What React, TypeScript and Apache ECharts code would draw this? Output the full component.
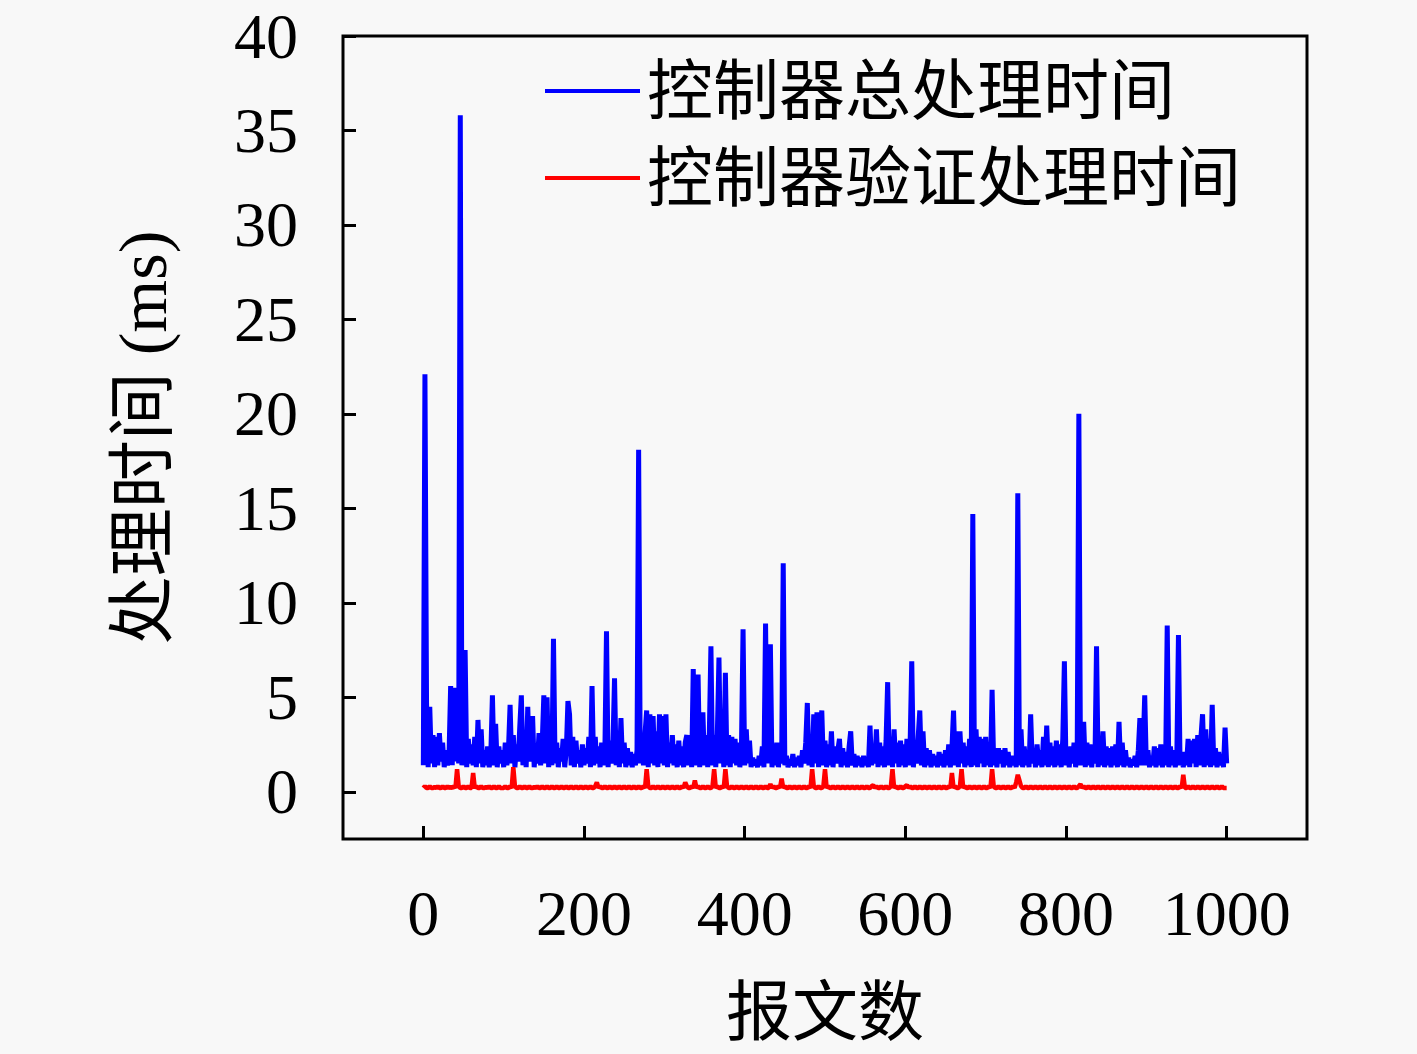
import React, { useEffect, useRef } from "react";
import * as echarts from "echarts";

// message index step between stored samples
const SAMPLE_STEP = 2;

const xTicks = [0, 200, 400, 600, 800, 1000];
const yTicks = [0, 5, 10, 15, 20, 25, 30, 35, 40];
const seriesNames = ["控制器总处理时间", "控制器验证处理时间"];
const xAxisTitle = "报文数";
const yAxisTitle = "处理时间 (ms)";

// 控制器总处理时间 (ms), one value per SAMPLE_STEP messages, rows of 50 messages
const totalTime = [
  1.4, 22.1, 4.7, 1.3, 4.5, 1.5, 3.0, 1.3, 2.9, 1.4, 3.1, 1.6, 2.6, 1.3, 2.2, 1.4, 2.0, 5.6, 1.4, 5.5, 1.6, 4.2, 1.5, 35.8, 1.4,
  2.1, 7.5, 1.3, 2.8, 1.5, 2.5, 1.4, 2.9, 1.3, 3.8, 1.5, 3.3, 1.3, 2.2, 1.4, 2.4, 1.3, 2.0, 5.1, 1.4, 3.6, 1.3, 2.4, 1.5, 2.2,
  1.3, 2.6, 1.4, 2.3, 4.6, 1.5, 3.0, 1.3, 2.5, 1.6, 3.4, 5.1, 1.4, 2.7, 1.3, 4.5, 1.6, 2.8, 4.0, 1.3, 2.4, 1.5, 3.1, 1.4, 2.6,
  5.1, 1.5, 5.0, 1.3, 2.8, 1.4, 8.1, 1.5, 2.6, 1.3, 2.3, 1.6, 2.8, 1.3, 2.2, 4.8, 4.1, 1.4, 2.9, 1.3, 2.7, 1.5, 2.2, 1.3, 2.5,
  1.4, 2.3, 1.5, 2.9, 1.3, 5.6, 1.4, 2.9, 1.5, 2.4, 1.3, 2.6, 1.4, 2.2, 8.5, 1.3, 2.7, 1.5, 2.4, 6.0, 1.4, 2.8, 1.3, 3.9, 1.5,
  2.6, 1.3, 2.3, 1.4, 2.1, 1.3, 2.0, 1.4, 2.2, 18.1, 1.5, 2.9, 1.4, 3.1, 4.3, 1.3, 4.1, 1.5, 4.0, 1.4, 3.2, 1.3, 4.1, 1.5, 4.0,
  1.4, 4.1, 1.3, 2.6, 1.5, 3.0, 1.4, 2.5, 1.3, 2.7, 1.4, 2.4, 1.3, 2.6, 3.0, 1.4, 3.0, 1.3, 6.5, 1.4, 3.0, 6.2, 1.3, 3.1, 4.2,
  1.4, 3.0, 1.3, 3.1, 7.7, 1.4, 3.0, 1.3, 3.1, 7.1, 1.5, 3.0, 1.3, 6.3, 1.4, 3.0, 1.3, 2.9, 1.5, 2.8, 1.4, 2.6, 1.3, 2.4, 8.6,
  1.4, 3.3, 1.5, 2.7, 1.3, 1.8, 1.4, 1.7, 1.3, 1.9, 1.4, 2.4, 1.3, 8.9, 1.5, 2.6, 7.8, 1.3, 2.5, 1.4, 2.6, 1.3, 2.3, 1.5, 12.1,
  1.4, 1.9, 1.3, 1.7, 1.4, 2.0, 1.3, 1.8, 1.4, 1.9, 1.3, 2.2, 1.5, 2.6, 4.7, 1.4, 3.0, 1.3, 4.1, 1.5, 4.2, 1.3, 3.0, 4.3, 1.4,
  2.7, 1.3, 2.5, 1.4, 3.2, 1.3, 2.4, 1.5, 2.2, 2.8, 1.3, 2.3, 1.4, 2.1, 1.3, 2.4, 3.2, 1.4, 2.0, 1.3, 1.9, 1.4, 1.8, 1.3, 1.9,
  1.4, 1.8, 1.3, 3.5, 1.4, 2.3, 1.5, 3.3, 1.3, 2.6, 1.4, 2.4, 1.3, 2.7, 5.8, 1.4, 2.9, 1.3, 3.3, 1.5, 2.6, 1.3, 2.7, 1.4, 2.5,
  1.3, 2.8, 1.4, 2.6, 6.9, 1.3, 2.4, 1.5, 2.9, 4.3, 1.4, 3.2, 1.3, 2.3, 1.4, 2.2, 1.3, 2.0, 1.4, 1.9, 1.3, 2.1, 1.4, 2.0, 1.3,
  2.2, 1.4, 2.5, 1.3, 2.3, 4.3, 1.4, 3.2, 1.3, 3.2, 1.5, 2.6, 1.3, 2.4, 1.4, 2.8, 1.3, 14.7, 1.4, 3.3, 1.3, 2.9, 1.5, 2.8, 1.3,
  2.9, 1.4, 2.6, 1.3, 5.4, 1.4, 2.3, 1.3, 2.3, 1.5, 2.2, 1.3, 2.3, 1.4, 2.1, 1.3, 1.9, 1.4, 1.8, 1.3, 15.8, 1.4, 3.3, 1.3, 2.4,
  1.4, 2.2, 1.3, 4.1, 1.5, 2.3, 1.3, 2.5, 1.4, 2.2, 1.3, 2.9, 1.4, 3.5, 1.3, 2.6, 1.4, 2.4, 1.3, 2.7, 1.4, 2.5, 1.3, 2.8, 6.9,
  1.4, 2.3, 1.3, 2.4, 1.5, 2.6, 1.3, 2.5, 20.0, 1.4, 2.8, 3.7, 1.3, 2.6, 1.4, 2.5, 1.3, 2.4, 1.5, 7.7, 1.3, 2.6, 1.4, 3.2, 1.3,
  2.4, 1.4, 2.3, 1.3, 2.4, 1.4, 2.5, 1.3, 3.7, 1.4, 2.6, 1.3, 2.2, 1.4, 1.8, 1.3, 1.7, 1.4, 1.9, 1.3, 2.2, 3.9, 1.4, 2.3, 5.1,
  1.4, 2.2, 1.3, 1.9, 1.4, 2.4, 1.3, 2.3, 1.4, 2.5, 1.3, 2.4, 1.4, 8.8, 1.3, 2.4, 1.4, 2.2, 1.3, 2.0, 8.3, 1.4, 1.9, 1.3, 2.1,
  1.4, 2.8, 1.3, 2.7, 1.5, 2.8, 1.3, 3.0, 1.4, 2.9, 4.1, 1.3, 3.3, 1.4, 2.8, 1.3, 4.6, 1.4, 2.3, 1.3, 2.1, 1.4, 2.0, 1.3, 3.4,
  1.5,
];

// 控制器验证处理时间 (ms), same sampling
const verifyTime = [
  0.2, 0.3, 0.2, 0.2, 0.3, 0.2, 0.2, 0.25, 0.2, 0.3, 0.2, 0.2, 0.3, 0.2, 0.2, 0.3, 0.2, 0.25, 0.2, 0.3, 0.2, 1.2, 0.3, 0.2, 0.2,
  0.3, 0.2, 0.2, 0.3, 0.2, 0.2, 1.0, 0.2, 0.3, 0.2, 0.2, 0.3, 0.2, 0.2, 0.25, 0.2, 0.3, 0.2, 0.2, 0.3, 0.2, 0.2, 0.3, 0.2, 0.2,
  0.2, 0.3, 0.2, 0.2, 0.3, 0.2, 1.3, 0.3, 0.2, 0.2, 0.3, 0.2, 0.2, 0.3, 0.2, 0.2, 0.3, 0.2, 0.2, 0.25, 0.2, 0.3, 0.2, 0.2, 0.3,
  0.2, 0.2, 0.3, 0.2, 0.2, 0.3, 0.2, 0.2, 0.3, 0.2, 0.2, 0.3, 0.2, 0.2, 0.3, 0.2, 0.2, 0.3, 0.2, 0.2, 0.3, 0.2, 0.2, 0.3, 0.2,
  0.2, 0.3, 0.2, 0.2, 0.3, 0.2, 0.2, 0.3, 0.5, 0.2, 0.3, 0.2, 0.2, 0.3, 0.2, 0.2, 0.3, 0.2, 0.2, 0.3, 0.2, 0.2, 0.3, 0.2, 0.2,
  0.3, 0.2, 0.2, 0.3, 0.2, 0.2, 0.3, 0.2, 0.2, 0.3, 0.2, 0.2, 0.3, 0.2, 1.2, 0.3, 0.2, 0.2, 0.3, 0.2, 0.2, 0.3, 0.2, 0.2, 0.3,
  0.2, 0.2, 0.3, 0.2, 0.2, 0.3, 0.2, 0.2, 0.3, 0.2, 0.2, 0.3, 0.2, 0.5, 0.3, 0.2, 0.2, 0.3, 0.2, 0.6, 0.2, 0.3, 0.2, 0.2, 0.3,
  0.2, 0.2, 0.3, 0.2, 0.2, 0.3, 1.2, 0.2, 0.3, 0.2, 0.2, 0.3, 0.2, 1.2, 0.3, 0.2, 0.2, 0.3, 0.2, 0.2, 0.3, 0.2, 0.2, 0.3, 0.2,
  0.2, 0.3, 0.2, 0.2, 0.3, 0.2, 0.2, 0.3, 0.2, 0.2, 0.3, 0.2, 0.2, 0.3, 0.2, 0.2, 0.4, 0.2, 0.3, 0.2, 0.2, 0.3, 0.2, 0.7, 0.2,
  0.3, 0.2, 0.2, 0.3, 0.2, 0.2, 0.3, 0.2, 0.2, 0.3, 0.2, 0.2, 0.3, 0.2, 0.2, 0.3, 0.2, 1.2, 0.3, 0.2, 0.2, 0.3, 0.2, 0.2, 0.3,
  1.2, 0.2, 0.3, 0.2, 0.2, 0.3, 0.2, 0.2, 0.3, 0.2, 0.2, 0.3, 0.2, 0.2, 0.3, 0.2, 0.2, 0.3, 0.2, 0.2, 0.3, 0.2, 0.2, 0.3, 0.2,
  0.2, 0.3, 0.2, 0.2, 0.3, 0.35, 0.2, 0.3, 0.2, 0.2, 0.3, 0.2, 0.2, 0.3, 0.2, 0.2, 0.3, 1.2, 0.2, 0.3, 0.2, 0.2, 0.3, 0.2, 0.2,
  0.3, 0.35, 0.2, 0.3, 0.2, 0.2, 0.3, 0.2, 0.2, 0.3, 0.2, 0.2, 0.3, 0.2, 0.2, 0.3, 0.2, 0.2, 0.3, 0.2, 0.2, 0.3, 0.2, 0.2, 0.3,
  0.2, 0.2, 0.3, 0.2, 1.0, 0.2, 0.3, 0.2, 0.2, 0.3, 1.2, 0.2, 0.3, 0.2, 0.2, 0.3, 0.2, 0.2, 0.3, 0.2, 0.2, 0.3, 0.2, 0.2, 0.3,
  0.2, 0.2, 0.3, 0.2, 1.2, 0.3, 0.2, 0.2, 0.3, 0.2, 0.2, 0.3, 0.2, 0.2, 0.3, 0.2, 0.2, 0.3, 0.2, 0.5, 0.9, 0.6, 0.3, 0.2, 0.2,
  0.3, 0.2, 0.2, 0.3, 0.2, 0.2, 0.3, 0.2, 0.2, 0.3, 0.2, 0.2, 0.3, 0.2, 0.2, 0.3, 0.2, 0.2, 0.3, 0.2, 0.2, 0.3, 0.2, 0.2, 0.3,
  0.2, 0.2, 0.3, 0.2, 0.2, 0.3, 0.2, 0.2, 0.3, 0.4, 0.2, 0.3, 0.2, 0.2, 0.3, 0.2, 0.2, 0.3, 0.2, 0.2, 0.3, 0.2, 0.2, 0.3, 0.2,
  0.2, 0.3, 0.2, 0.2, 0.3, 0.2, 0.2, 0.3, 0.2, 0.2, 0.3, 0.2, 0.2, 0.3, 0.2, 0.2, 0.3, 0.2, 0.2, 0.3, 0.2, 0.2, 0.3, 0.2, 0.2,
  0.3, 0.2, 0.2, 0.3, 0.2, 0.2, 0.3, 0.2, 0.2, 0.3, 0.2, 0.2, 0.3, 0.2, 0.2, 0.3, 0.2, 0.2, 0.3, 0.2, 0.2, 0.3, 0.2, 0.9, 0.2,
  0.2, 0.3, 0.2, 0.2, 0.3, 0.2, 0.2, 0.3, 0.2, 0.2, 0.3, 0.2, 0.2, 0.3, 0.2, 0.2, 0.3, 0.2, 0.2, 0.3, 0.2, 0.2, 0.3, 0.2, 0.2,
  0.2,
];

const FONT = "'Liberation Serif', 'Noto Sans CJK SC', serif";

export default function App() {
  const ref = useRef<HTMLDivElement>(null);

  useEffect(() => {
    document.body.style.margin = "0";
    const chart = echarts.init(ref.current!, null, { renderer: "svg" });
    const toPairs = (arr: number[]) => arr.map((v, i) => [i * SAMPLE_STEP, v]);

    chart.setOption({
      animation: false,
      backgroundColor: "#f8f8f8",
      grid: {
        left: 343,
        top: 36,
        right: 110,
        bottom: 215,
        show: true,
        borderColor: "#000",
        borderWidth: 3,
        backgroundColor: "transparent",
      },
      legend: {
        orient: "vertical",
        left: 540,
        top: 53,
        icon: "rect",
        itemWidth: 95,
        itemHeight: 4,
        itemGap: 21,
        selectedMode: false,
        textStyle: {
          fontFamily: FONT,
          fontSize: 66,
          lineHeight: 66,
          color: "#000",
          padding: [0, 0, 0, 2],
        },
        data: seriesNames,
      },
      xAxis: {
        type: "value",
        min: -100,
        max: 1100,
        name: xAxisTitle,
        nameLocation: "middle",
        nameGap: 140,
        nameTextStyle: { fontFamily: FONT, fontSize: 66, color: "#000" },
        axisLine: { show: false, onZero: false },
        splitLine: { show: false },
        axisTick: {
          show: true,
          inside: true,
          length: 13,
          customValues: xTicks,
          lineStyle: { color: "#000", width: 3 },
        },
        axisLabel: {
          customValues: xTicks,
          formatter: (v: number) => String(v),
          margin: 42,
          fontFamily: FONT,
          fontSize: 64,
          color: "#000",
        },
      },
      yAxis: {
        type: "value",
        min: -2.5,
        max: 40,
        name: yAxisTitle,
        nameLocation: "middle",
        nameRotate: 90,
        nameGap: 166,
        nameTextStyle: { fontFamily: FONT, fontSize: 68, color: "#000" },
        axisLine: { show: false, onZero: false },
        splitLine: { show: false },
        axisTick: {
          show: true,
          inside: true,
          length: 13,
          customValues: yTicks,
          lineStyle: { color: "#000", width: 3 },
        },
        axisLabel: {
          customValues: yTicks,
          formatter: (v: number) => String(v),
          margin: 45,
          fontFamily: FONT,
          fontSize: 64,
          color: "#000",
        },
      },
      series: [
        {
          name: seriesNames[0],
          type: "line",
          data: toPairs(totalTime),
          symbol: "none",
          color: "#0000ff",
          lineStyle: { color: "#0000ff", width: 5 },
        },
        {
          name: seriesNames[1],
          type: "line",
          data: toPairs(verifyTime),
          symbol: "none",
          color: "#ff0000",
          lineStyle: { color: "#ff0000", width: 4.5 },
        },
      ],
    });
    return () => chart.dispose();
  }, []);

  return <div ref={ref} style={{ width: 1417, height: 1054 }} />;
}
